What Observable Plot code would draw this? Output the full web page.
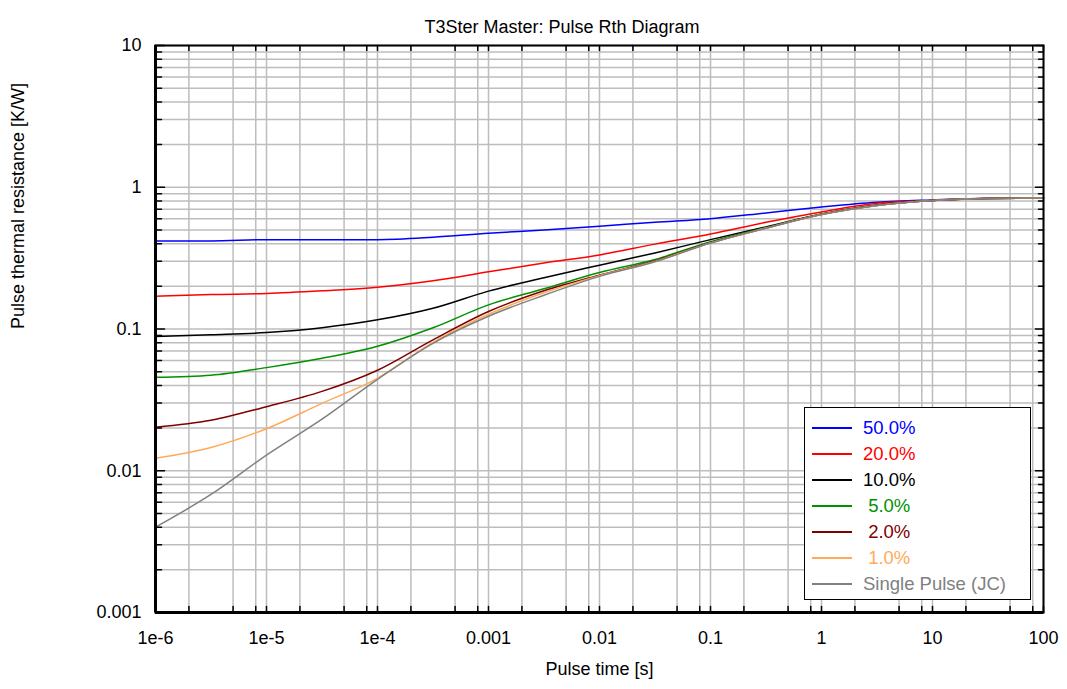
<!DOCTYPE html>
<html>
<head>
<meta charset="utf-8">
<script src="https://cdn.jsdelivr.net/npm/d3@7"></script>
<script src="https://cdn.jsdelivr.net/npm/@observablehq/plot@0.6"></script>
<style>
  html, body { margin: 0; padding: 0; background: #fff; }
  #wrap { position: relative; width: 1067px; height: 689px; background: #fff; font-family: "Liberation Sans", Arial, sans-serif; }
  #legend { position: absolute; left: 804px; top: 407px; width: 225px; height: 191px; border: 1.5px solid #000; background: #fff; box-sizing: content-box; }
  .row { position: absolute; left: 0; height: 26px; width: 100%; }
  .row .sw { position: absolute; left: 7px; width: 40px; top: 12px; height: 1.5px; }
  .row .lb { position: absolute; left: 58px; top: 2px; font-size: 18.5px; line-height: 22px; white-space: pre; }
</style>
</head>
<body>
<div id="wrap"><div id="chart"></div><div id="legend"></div></div>
<script>
// ---- data ----
const times = [1e-6, 3.16e-6, 1e-5, 3.16e-5, 1e-4, 3.16e-4, 1e-3, 3.16e-3, 1e-2, 3.16e-2, 0.1, 0.316, 1, 3.16, 10, 31.6, 100];
const duty50 = [0.418, 0.418, 0.427, 0.427, 0.427, 0.444, 0.474, 0.500, 0.531, 0.566, 0.600, 0.659, 0.725, 0.784, 0.814, 0.836, 0.840];
const duty20 = [0.170, 0.175, 0.178, 0.186, 0.197, 0.219, 0.253, 0.292, 0.333, 0.397, 0.468, 0.566, 0.670, 0.771, 0.807, 0.834, 0.840];
const duty10 = [0.0884, 0.091, 0.0943, 0.102, 0.116, 0.140, 0.185, 0.230, 0.282, 0.344, 0.427, 0.525, 0.648, 0.750, 0.806, 0.834, 0.840];
const duty5  = [0.0456, 0.0472, 0.0534, 0.0621, 0.0755, 0.102, 0.148, 0.192, 0.250, 0.309, 0.413, 0.520, 0.645, 0.745, 0.806, 0.834, 0.840];
const duty2  = [0.0203, 0.0227, 0.0283, 0.0363, 0.0512, 0.0839, 0.133, 0.186, 0.240, 0.303, 0.406, 0.515, 0.642, 0.743, 0.806, 0.834, 0.840];
const duty1  = [0.01225, 0.0146, 0.0198, 0.0299, 0.0449, 0.0805, 0.127, 0.180, 0.238, 0.300, 0.405, 0.515, 0.642, 0.743, 0.806, 0.834, 0.840];
const single = [0.0040, 0.0068, 0.0129, 0.0231, 0.0442, 0.0793, 0.123, 0.173, 0.235, 0.298, 0.404, 0.514, 0.642, 0.743, 0.806, 0.834, 0.840];

const seriesNames = ["50.0%", "20.0%", "10.0%", " 5.0%", " 2.0%", " 1.0%", "Single Pulse (JC)"];
const seriesValues = [duty50, duty20, duty10, duty5, duty2, duty1, single];
const seriesColors = ["#0000ff", "#ff0000", "#000000", "#009000", "#800000", "#ffaa58", "#808080"];

const xTickValues = [1e-6, 1e-5, 1e-4, 1e-3, 1e-2, 0.1, 1, 10, 100];
const xTickLabels = ["1e-6", "1e-5", "1e-4", "0.001", "0.01", "0.1", "1", "10", "100"];
const yTickValues = [0.001, 0.01, 0.1, 1, 10];
const yTickLabels = ["0.001", "0.01", "0.1", "1", "10"];
const xMinorMultipliers = [2, 5, 8];
const yMinorMultipliers = [2, 3, 4, 5, 6, 7, 8, 9];

const titleText = "T3Ster Master: Pulse Rth Diagram";
const xLabelText = "Pulse time [s]";
const yLabelText = "Pulse thermal resistance [K/W]";

// ---- derived tables ----
const rows = [];
seriesNames.forEach((name, s) => times.forEach((t, i) => rows.push({series: name, t, r: seriesValues[s][i]})));

const xMinor = [];
xTickValues.slice(0, -1).forEach(d => xMinorMultipliers.forEach(m => xMinor.push(d * m)));
const yMinor = [];
yTickValues.slice(0, -1).forEach(d => yMinorMultipliers.forEach(m => yMinor.push(d * m)));
const xGrid = xTickValues.concat(xMinor);
const yGrid = yTickValues.concat(yMinor);

const tickShape = {draw(context, l) { context.moveTo(0, 0); context.lineTo(0, -l); }};
const fmtX = d => xTickLabels[xTickValues.indexOf(d)];
const fmtY = d => yTickLabels[yTickValues.indexOf(d)];

const chart = Plot.plot({
  width: 1067,
  height: 689,
  marginLeft: 155,
  marginRight: 24,
  marginTop: 45,
  marginBottom: 77,
  style: {fontFamily: "'Liberation Sans', Arial, sans-serif", fontSize: "18px", color: "#000", background: "#fff", overflow: "visible"},
  x: {type: "log", domain: [1e-6, 100], axis: null},
  y: {type: "log", domain: [0.001, 10], axis: null},
  color: {domain: seriesNames, range: seriesColors},
  marks: [
    Plot.ruleX(xGrid, {stroke: "#bdbdbd", strokeWidth: 1.5}),
    Plot.ruleY(yGrid, {stroke: "#bdbdbd", strokeWidth: 1.5}),
    Plot.line(rows, {x: "t", y: "r", z: "series", stroke: "series", strokeWidth: 1.5, curve: "monotone-x"}),
    // inward ticks
    Plot.vector(xGrid, {x: d => d, frameAnchor: "bottom", rotate: 0, length: 6, anchor: "start", shape: tickShape, stroke: "#000", strokeWidth: 1.5}),
    Plot.vector(xGrid, {x: d => d, frameAnchor: "top", rotate: 180, length: 5, anchor: "start", shape: tickShape, stroke: "#000", strokeWidth: 1.5}),
    Plot.vector(yTickValues, {y: d => d, frameAnchor: "left", rotate: 90, length: 9, anchor: "start", shape: tickShape, stroke: "#000", strokeWidth: 1.5}),
    Plot.vector(yMinor, {y: d => d, frameAnchor: "left", rotate: 90, length: 6, anchor: "start", shape: tickShape, stroke: "#000", strokeWidth: 1.5}),
    Plot.vector(yTickValues, {y: d => d, frameAnchor: "right", rotate: -90, length: 8, anchor: "start", shape: tickShape, stroke: "#000", strokeWidth: 1.5}),
    Plot.vector(yMinor, {y: d => d, frameAnchor: "right", rotate: -90, length: 5, anchor: "start", shape: tickShape, stroke: "#000", strokeWidth: 1.5}),
    Plot.frame({stroke: "#000", strokeWidth: 2}),
    Plot.ruleX([1e-6], {stroke: "#000", strokeWidth: 3}),
    Plot.ruleY([0.001], {stroke: "#000", strokeWidth: 3}),
    // tick labels
    Plot.text(xTickValues, {x: d => d, frameAnchor: "bottom", text: fmtX, lineAnchor: "top", dy: 19, fontSize: 18, fill: "#000"}),
    Plot.text(yTickValues, {y: d => d, frameAnchor: "left", text: fmtY, textAnchor: "end", dx: -14, fontSize: 18, fill: "#000"}),
    // titles
    Plot.text([titleText], {text: d => d, frameAnchor: "top", textAnchor: "end", dx: 100, dy: -25, fontSize: 18, fill: "#000"}),
    Plot.text([xLabelText], {text: d => d, frameAnchor: "bottom", dy: 62, fontSize: 18, fill: "#000"}),
    Plot.text([yLabelText], {text: d => d, frameAnchor: "left", rotate: -90, dx: -137, fontSize: 18, fill: "#000"})
  ]
});
document.getElementById("chart").appendChild(chart);

// legend
const legend = document.getElementById("legend");
seriesNames.forEach((name, i) => {
  const row = document.createElement("div");
  row.className = "row";
  row.style.top = (7 + i * 26) + "px";
  const sw = document.createElement("div");
  sw.className = "sw";
  sw.style.background = seriesColors[i];
  const lb = document.createElement("div");
  lb.className = "lb";
  lb.style.color = seriesColors[i];
  lb.textContent = name;
  row.appendChild(sw);
  row.appendChild(lb);
  legend.appendChild(row);
});
</script>
</body>
</html>
